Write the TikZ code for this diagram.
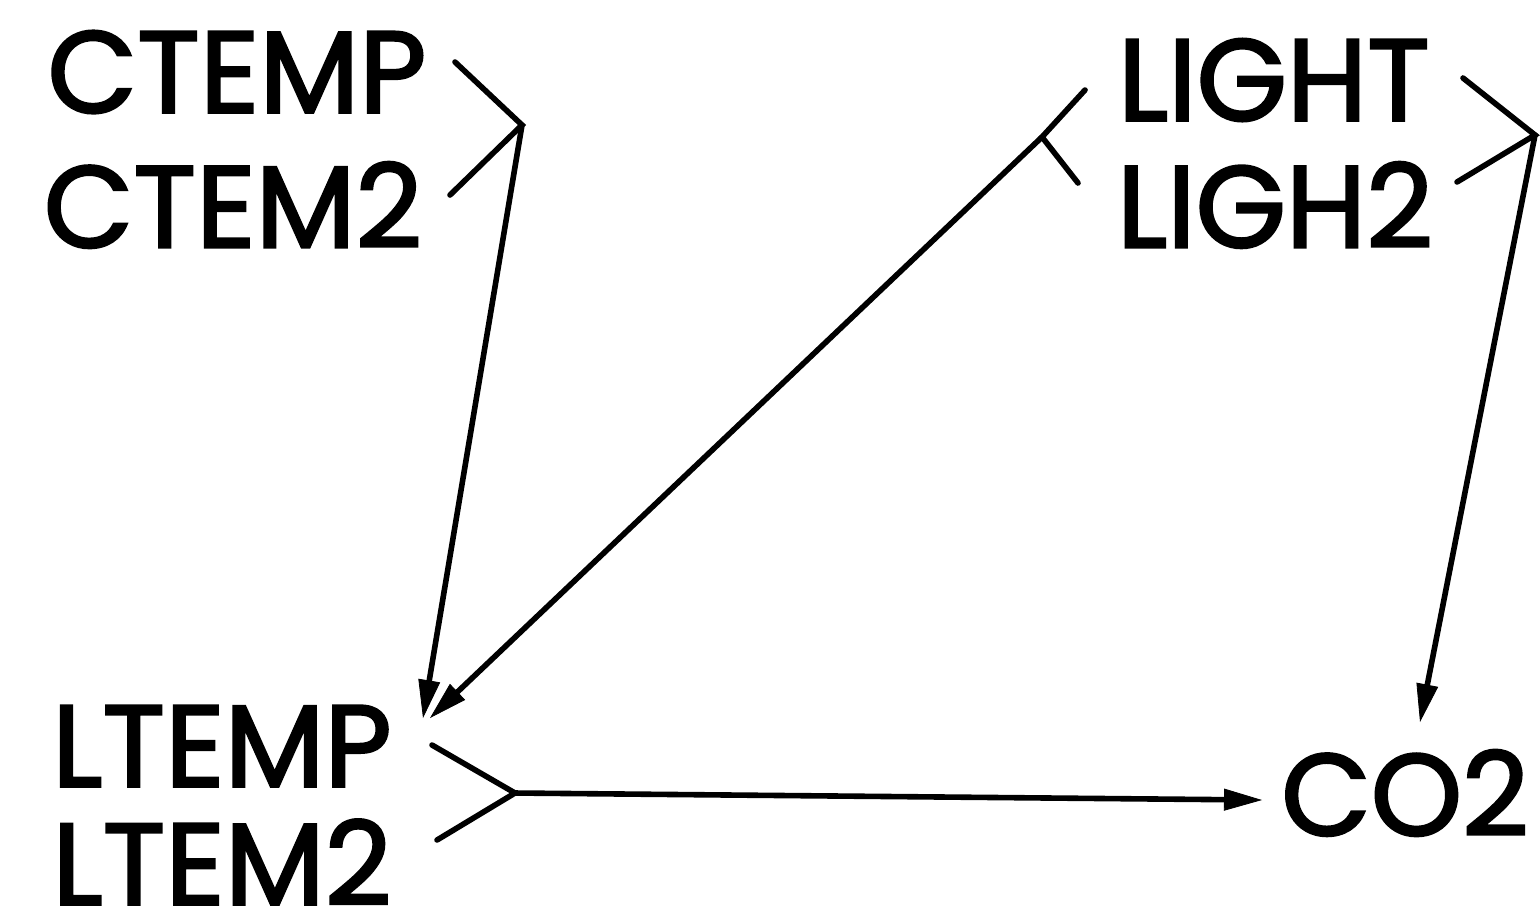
\documentclass[tikz,border=0pt]{standalone}
\usepackage{fontspec}
\newfontfamily\lblfont{Poppins}[FakeBold=2.2]
\usetikzlibrary{arrows.meta}
\begin{document}
\begin{tikzpicture}[x=0.5pt,y=-0.5pt,
  lbl/.style={inner sep=0pt,font=\fontsize{58}{62}\lblfont},
  ln/.style={line width=2.8pt,line cap=round},
  arr/.style={ln,-{Triangle[length=19pt,width=11pt,line width=0.4pt]}}]
\useasboundingbox (0,0) rectangle (1540,918);
\node[lbl] (ctemp) at (237,72) {CTEMP};
\node[lbl] (ctem2) at (233,205) {CTEM2};
\node[lbl] (light) at (1274,80) {LIGHT};
\node[lbl] (ligh2) at (1275,205) {LIGH2};
\node[lbl] (ltemp) at (222,746) {LTEMP};
\node[lbl] (ltem2) at (222,862) {LTEM2};
\node[lbl] (co2) at (1405,793) {CO2};
% junctions
\coordinate (jc) at (522,125);
\coordinate (jl) at (1042,137);
\coordinate (jr) at (1535,135);
\coordinate (jt) at (515,793);
% bracket ends
\coordinate (c1) at (455,62);
\coordinate (c2) at (450,195);
\coordinate (l1) at (1085,90);
\coordinate (l2) at (1078,183);
\coordinate (r1) at (1463,78);
\coordinate (r2) at (1457,182);
\coordinate (t1) at (432,745);
\coordinate (t2) at (437,840);
\draw[ln] (c1) -- (jc) -- (c2);
\draw[ln] (l1) -- (jl) -- (l2);
\draw[ln] (r1) -- (jr) -- (r2);
\draw[ln] (t1) -- (jt) -- (t2);
\coordinate (ltin1) at (423,718);
\coordinate (ltin2) at (430,718);
\coordinate (coin1) at (1420,722);
\coordinate (coin2) at (1262,800);
\draw[arr] (jc) -- (ltin1);
\draw[arr] (jl) -- (ltin2);
\draw[arr] (jr) -- (coin1);
\draw[arr] (jt) -- (coin2);
\end{tikzpicture}
\end{document}
